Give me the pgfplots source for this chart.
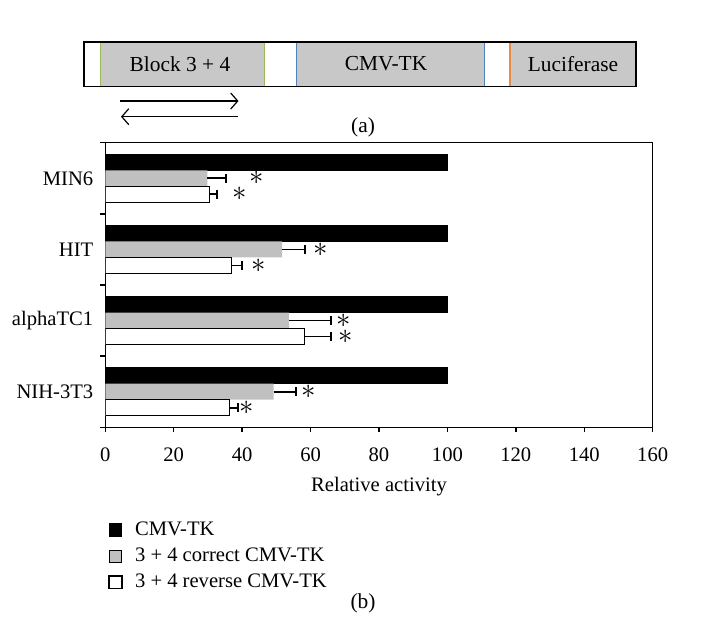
\documentclass[border=0pt]{standalone}
\usepackage{fontspec}
\setmainfont{Liberation Serif}
\usepackage{pgfplots}
\pgfplotsset{compat=1.18}
\usetikzlibrary{plotmarks,arrows.meta}
\definecolor{barg}{RGB}{192,192,192}
\definecolor{boxg}{RGB}{200,200,200}
\definecolor{grn}{RGB}{155,187,89}
\definecolor{blu}{RGB}{79,129,189}
\definecolor{org}{RGB}{230,140,70}
\begin{document}
\begin{tikzpicture}
\begin{scope}[x=0.5pt,y=-0.5pt]
\path[use as bounding box] (0,0) rectangle (703,634);
% part (a) diagram
\fill[boxg] (100.5,41.7) rectangle (264.4,86.5);
\fill[boxg] (296.3,41.7) rectangle (484.3,86.5);
\fill[boxg] (510,41.7) rectangle (635.7,86.5);
\draw[grn, line width=0.6pt] (100.5,41.7) -- (100.5,86.5);
\draw[grn, line width=0.6pt] (264.4,41.7) -- (264.4,86.5);
\draw[blu, line width=0.6pt] (296.3,41.7) -- (296.3,86.5);
\draw[blu, line width=0.6pt] (484.3,41.7) -- (484.3,86.5);
\draw[org, line width=0.6pt] (510,41.7) -- (510,86.5);
\draw[line width=0.9pt] (84,41.7) rectangle (635.7,86.5);
\node[font=\fontsize{10.7}{12}\selectfont] at (180,64) {Block 3 + 4};
\node[font=\fontsize{10.7}{12}\selectfont] at (386,64) {CMV-TK};
\node[font=\fontsize{10.7}{12}\selectfont] at (573,64) {Luciferase};
\draw[line width=0.6pt, -{Straight Barb[length=3.5pt,width=8pt]}] (120,101) -- (238.5,101);
\draw[line width=0.6pt, {Straight Barb[length=3.5pt,width=8pt]}-] (121,116.7) -- (238,116.7);
\node[font=\fontsize{10.7}{12}\selectfont] at (363,127) {(a)};
\node[font=\fontsize{10.7}{12}\selectfont] at (363,603) {(b)};
\end{scope}
\begin{axis}[
  at={(52.65pt,-213.65pt)}, anchor=south west,
  scale only axis, width=273.7pt, height=142.3pt,
  xmin=0, xmax=160, ymin=-0.5, ymax=3.5,
  xtick={0,20,...,160},
  ytick={-0.5,0.5,1.5,2.5,3.5}, yticklabels={},
  extra y ticks={0,1,2,3},
  extra y tick labels={NIH-3T3,alphaTC1,HIT,MIN6},
  extra y tick style={tick style={draw=none}},
  xtick pos=bottom, ytick pos=left,
  tick align=outside,
  major tick length=2.5pt,
  axis line style={line width=0.7pt},
  tick style={line width=0.7pt, black},
  /pgf/number format/assume math mode=true,
  tick label style={font=\fontsize{10.3}{12}\selectfont},
  xticklabel style={yshift=-4pt},
  label style={font=\fontsize{10.3}{12}\selectfont},
  xlabel={Relative activity},
  xlabel style={yshift=-1pt},
  legend style={at={(0.005,-0.322)}, anchor=north west, draw=none, fill=none,
    inner sep=0pt, row sep=2pt,
    nodes={inner sep=1pt, text height=7pt, text depth=2pt},
    font=\fontsize{10.3}{12}\selectfont},
  legend cell align=left,
  legend image code/.code={\draw[#1] (0pt,-3.2pt) rectangle (6.4pt,3.2pt); \path[draw=none,fill=none] (0pt,0pt) -- (12pt,0pt);},
  error bars/error bar style={draw=black, line width=0.85pt},
  error bars/error mark options={draw=black, line width=0.85pt, mark size=2.2pt, rotate=90},
]
\addplot[xbar, bar width=0.225, bar shift=0, fill=black, draw=black, line width=0.5pt]
  coordinates {(100,3.225) (100,2.225) (100,1.225) (100,0.225)};
\addlegendentry{CMV-TK}
\addplot[xbar, bar width=0.225, bar shift=0, fill=barg, draw=none,
  error bars/.cd, x dir=plus, x explicit]
  coordinates {(29.8,3) +- (5.5,0) (51.7,2) +- (6.6,0) (53.7,1) +- (12.2,0) (49.2,0) +- (6.5,0)};
\addlegendentry{3 + 4 correct CMV-TK}
\addplot[xbar, bar width=0.225, bar shift=0, fill=white, draw=black, line width=0.65pt,
  error bars/.cd, x dir=plus, x explicit]
  coordinates {(30.4,2.775) +- (2.3,0) (36.9,1.775) +- (3.0,0) (58.2,0.775) +- (7.7,0) (36.4,-0.225) +- (2.4,0)};
\addlegendentry{3 + 4 reverse CMV-TK}
\addplot[forget plot, only marks, mark=text, text mark={\Large$\ast$}, black]
  coordinates {(44.3,3) (63.1,2) (69.8,1) (59.5,0)};
\addplot[forget plot, only marks, mark=text, text mark={\Large$\ast$}, black]
  coordinates {(39.4,2.775) (44.8,1.775) (70.4,0.775) (41.2,-0.225)};
\end{axis}
\end{tikzpicture}
\end{document}
